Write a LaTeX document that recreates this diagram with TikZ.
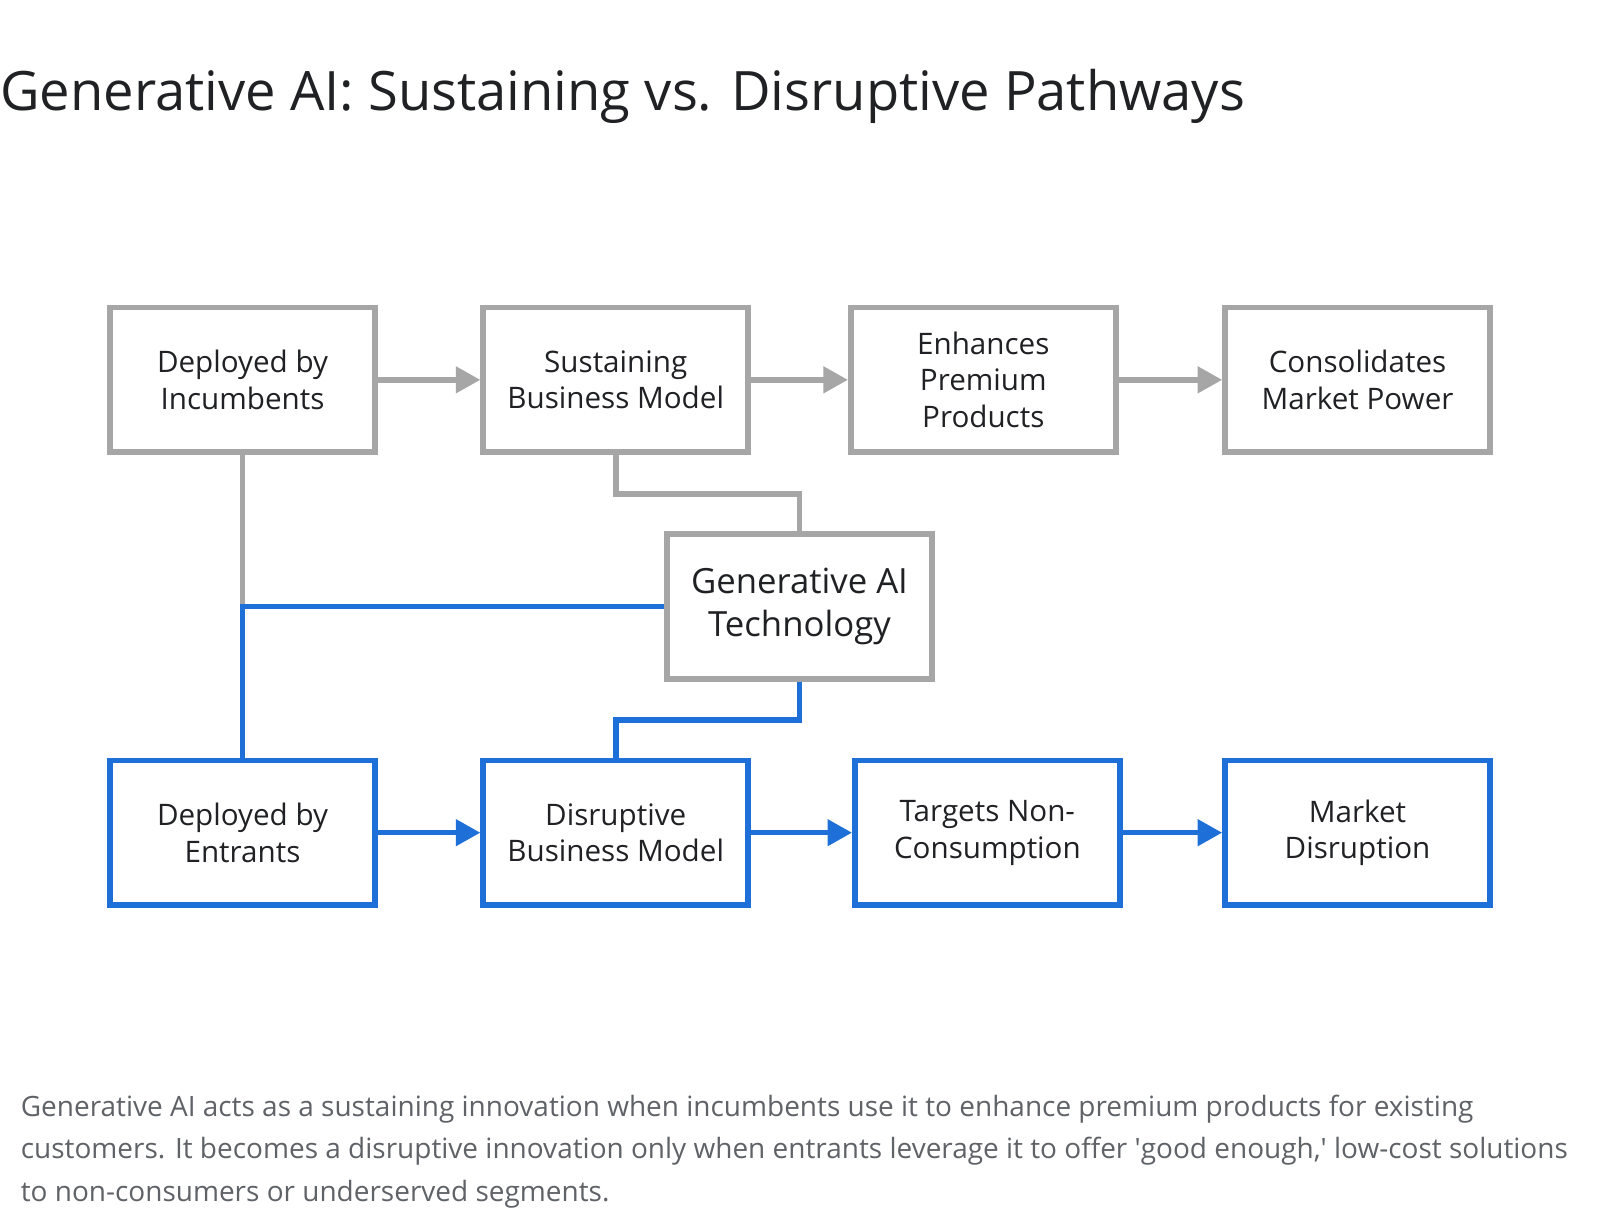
\documentclass[tikz,border=0pt]{standalone}
\usepackage{fontspec}
\setmainfont{Open Sans}
\usetikzlibrary{arrows.meta}
\definecolor{grayline}{HTML}{A6A6A6}
\definecolor{blueline}{HTML}{1F6FD9}
\definecolor{txt}{HTML}{202124}
\definecolor{captxt}{HTML}{5F6368}
\begin{document}
\begin{tikzpicture}[x=0.5pt,y=-0.5pt,
  box/.style={draw, line width=2.75pt, minimum width=129.75pt, minimum height=70.75pt,
    align=center, font=\fontsize{14.5}{18}\selectfont, text=txt, inner sep=0pt},
  graybox/.style={box, draw=grayline},
  bluebox/.style={box, draw=blueline},
  conn/.style={line width=2.75pt},
  arr/.style={conn, -{Triangle[length=12pt,width=12.5pt]}},
  captext/.style={anchor=base west, inner sep=0pt, text=captxt, font=\fontsize{13.7}{21}\selectfont},
]
\useasboundingbox (0,0) rectangle (1567,1200);
\fill[white] (0,0) rectangle (1567,1200);

\node[anchor=base west, inner sep=0pt, text=txt, font=\fontsize{26.6}{30}\selectfont] (title) at (0,108)
  {Generative AI: Sustaining vs. Disruptive Pathways};

% top row
\node[graybox] (inc) at (237.5,372) {Deployed by\\Incumbents};
\node[graybox] (sus) at (603,372) {Sustaining\\Business Model};
\node[graybox] (enh) at (963,372) {Enhances\\Premium\\Products};
\node[graybox] (con) at (1329.5,372) {Consolidates\\Market Power};

% middle
\node[graybox, font=\fontsize{17}{21}\selectfont] (gen) at (783,594) {Generative AI\\Technology};

% bottom row
\node[bluebox] (ent) at (237.5,815.5) {Deployed by\\Entrants};
\node[bluebox] (dis) at (603,815.5) {Disruptive\\Business Model};
\node[bluebox] (tnc) at (967,815.5) {Targets Non-\\Consumption};
\node[bluebox] (mkd) at (1329.5,815.5) {Market\\Disruption};

\coordinate (m1) at (0,484);
\coordinate (m2) at (0,705);

% gray connectors
\draw[arr, grayline] (inc.east) -- (sus.west);
\draw[arr, grayline] (sus.east) -- (enh.west);
\draw[arr, grayline] (enh.east) -- (con.west);
\draw[conn, grayline] (inc.south) -- (inc.south |- gen.west);
\draw[conn, grayline] (sus.south) -- (sus.south |- m1) -| (gen.north);

% blue connectors
\draw[conn, blueline] (gen.west) -| (ent.north);
\draw[conn, blueline] (gen.south) -- (gen.south |- m2) -| (dis.north);
\draw[arr, blueline] (ent.east) -- (dis.west);
\draw[arr, blueline] (dis.east) -- (tnc.west);
\draw[arr, blueline] (tnc.east) -- (mkd.west);

% caption
\node[captext] (cap1) at (20,1093) {Generative AI acts as a sustaining innovation when incumbents use it to enhance premium products for existing};
\node[captext] (cap2) at (20,1135) {customers. It becomes a disruptive innovation only when entrants leverage it to offer \textquotesingle good enough,\textquotesingle\ low-cost solutions};
\node[captext] (cap3) at (20,1177) {to non-consumers or underserved segments.};
\end{tikzpicture}
\end{document}
